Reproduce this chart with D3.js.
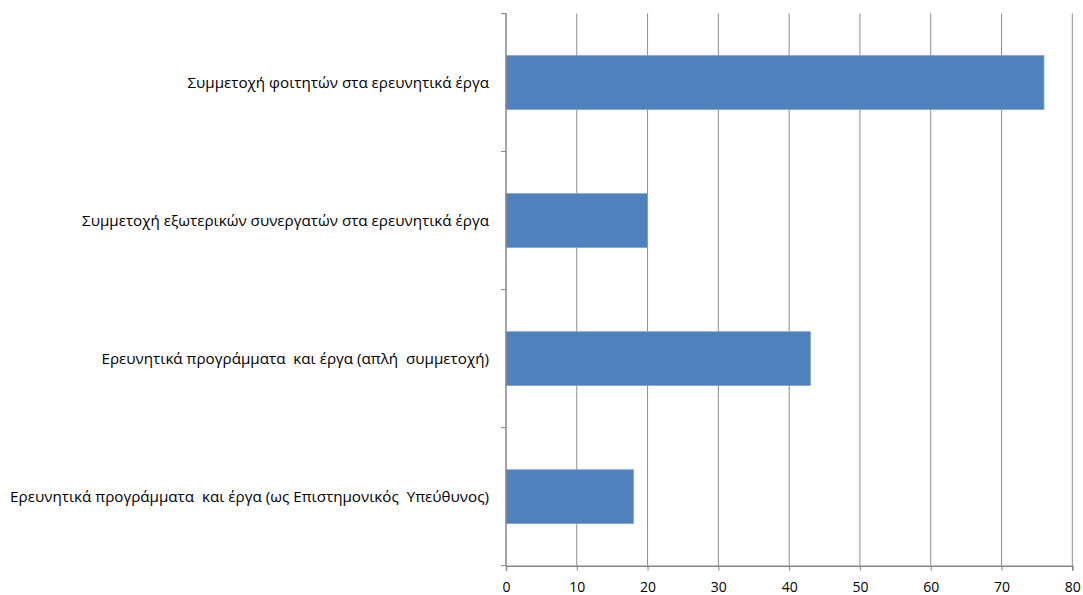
<!DOCTYPE html>
<html><head><meta charset="utf-8">
<script src="https://cdn.jsdelivr.net/npm/d3@7"></script>
<style>body{margin:0;background:#fff}svg{display:block}text{font-family:"Open Sans",sans-serif;fill:#000}</style>
</head><body><svg id="c" width="1083" height="595"></svg>
<script>
const categories = [
  "Συμμετοχή φοιτητών στα ερευνητικά έργα",
  "Συμμετοχή εξωτερικών συνεργατών στα ερευνητικά έργα",
  "Ερευνητικά προγράμματα  και έργα (απλή  συμμετοχή)",
  "Ερευνητικά προγράμματα  και έργα (ως Επιστημονικός  Υπεύθυνος)"
];
const values = [76, 20, 43, 18];
const xTicks = [0,10,20,30,40,50,60,70,80];

const svg = d3.select("#c");
const L = 506, R = 1072.3, T = 13.5, B = 565.7;
const x = d3.scaleLinear().domain([0,80]).range([L,R]);
const y = d3.scaleBand().domain(categories).range([T,B]).paddingInner(0.61).paddingOuter(0.305);

// gridlines
svg.append("g").selectAll("line").data(xTicks.slice(1)).join("line")
  .attr("x1",d=>x(d)).attr("x2",d=>x(d)).attr("y1",T).attr("y2",B)
  .attr("stroke","#8c8c8c").attr("stroke-width",1);

// bars
svg.append("g").selectAll("rect").data(values).join("rect")
  .attr("x",x(0)).attr("y",(d,i)=>y(categories[i]))
  .attr("width",d=>x(d)-x(0)).attr("height",y.bandwidth())
  .attr("fill","#4f81bd").attr("stroke","#7ea3d2").attr("stroke-width",0.8);

// x axis
const xa = svg.append("g").attr("transform",`translate(0,${B})`)
  .call(d3.axisBottom(x).tickValues(xTicks).tickSize(5).tickPadding(11));
xa.select(".domain").attr("stroke","#868686").attr("stroke-width",1.5);
xa.selectAll(".tick line").attr("stroke","#868686");
xa.selectAll("text").style("font-size","14px").attr("fill","#000");

// y axis
const ya = svg.append("g").attr("transform",`translate(${L},0)`);
ya.append("line").attr("x1",0).attr("x2",0).attr("y1",T).attr("y2",B).attr("stroke","#868686").attr("stroke-width",1.5);
const tb = d3.range(0,5).map(i=>T+i*(B-T)/4);
ya.selectAll("line.t").data(tb).join("line").attr("class","t")
  .attr("x1",-5).attr("x2",0).attr("y1",d=>d).attr("y2",d=>d).attr("stroke","#868686");
ya.selectAll("text").data(categories).join("text")
  .attr("x",-17).attr("y",d=>y(d)+y.bandwidth()/2).attr("dy","0.35em")
  .attr("text-anchor","end").style("font-size","15.2px").style("white-space","pre")
  .text(d=>d);
</script></body></html>
